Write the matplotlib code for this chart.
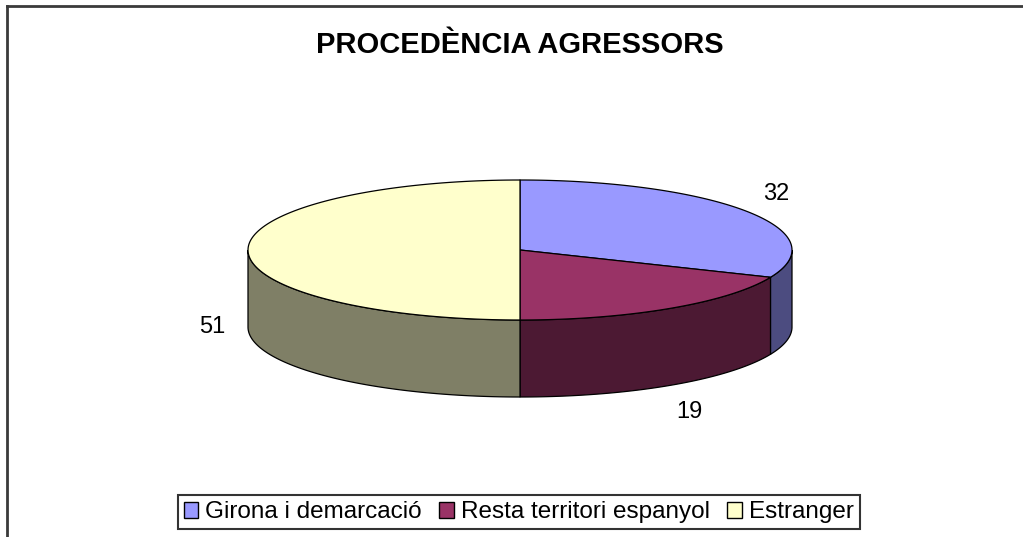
import numpy as np
import matplotlib
matplotlib.use("Agg")
import matplotlib.pyplot as plt
from matplotlib.patches import Polygon, Patch
from matplotlib.lines import Line2D

plt.rcParams['font.family'] = ['Liberation Sans', 'DejaVu Sans']

# data
categories = ["Girona i demarcació", "Resta territori espanyol", "Estranger"]
values = [32, 19, 51]
top_colors = ["#9999FF", "#993366", "#FFFFCC"]
side_colors = ["#4C4C80", "#4C1933", "#7F7F66"]
title = "PROCEDÈNCIA AGRESSORS"

# pie geometry (pixel space, y down)
cx, cy = 520, 250
rx, ry = 272, 70
depth = 77

W, H = 1023, 537
fig = plt.figure(figsize=(W / 100, H / 100), dpi=100)
ax = fig.add_axes([0, 0, 1, 1])
ax.set_xlim(0, W)
ax.set_ylim(H, 0)
ax.axis('off')


def arc(a1, a2, dy=0, n=120):
    t = np.radians(np.linspace(a1, a2, n))
    return np.column_stack([cx + rx * np.cos(t), cy - ry * np.sin(t) + dy])


# slice angles, clockwise from 12 o'clock
total = sum(values)
spans = np.array(values) / total * 360
starts = 90 - np.concatenate([[0], np.cumsum(spans)[:-1]])
ends = starts - spans

# side walls (only the front half, angles between -180 and 0)
for a1, a2, col in zip(starts, ends, side_colors):
    lo, hi = a2, a1
    for shift in (0, -360, 360):
        s_lo, s_hi = max(lo + shift, -180), min(hi + shift, 0)
        if s_hi > s_lo:
            top = arc(s_lo, s_hi)
            bot = arc(s_hi, s_lo, dy=depth)
            ax.add_patch(Polygon(np.vstack([top, bot]), closed=True,
                                 facecolor=col, edgecolor='black', lw=0.9))

# top wedges
for a1, a2, col in zip(starts, ends, top_colors):
    pts = np.vstack([[cx, cy], arc(a1, a2)])
    ax.add_patch(Polygon(pts, closed=True, facecolor=col,
                         edgecolor='black', lw=0.9, joinstyle='round'))

# value labels
for a1, a2, v in zip(starts, ends, values):
    mid = np.radians((a1 + a2) / 2)
    lx = cx + 1.13 * rx * np.cos(mid)
    ly = cy - 1.45 * ry * np.sin(mid)
    if np.sin(mid) <= 1e-6:
        ly += depth
    ax.text(lx, ly, str(v), ha='center', va='center', fontsize=17)

ax.text(cx, 45, title, ha='center', va='center', fontsize=21,
        fontweight='bold')

# outer chart border (top and left visible)
fig.add_artist(Line2D([7 / W, 7 / W], [0, 1 - 6 / H], color='#3a3a3a', lw=2))
fig.add_artist(Line2D([7 / W, 1], [1 - 6 / H, 1 - 6 / H], color='#3a3a3a', lw=2))

handles = [Patch(facecolor=c, edgecolor='black', lw=1) for c in top_colors]
leg = fig.legend(handles, categories, loc='lower center', ncol=3,
                 bbox_to_anchor=(0.507, 0.005), fontsize=17.5, frameon=True,
                 fancybox=False, edgecolor='black', handlelength=0.6,
                 handleheight=0.6, handletextpad=0.3, columnspacing=0.7,
                 borderpad=0.25, borderaxespad=0.2)
leg.get_frame().set_linewidth(1.5)

fig.savefig("out.png", dpi=100, facecolor='white')
